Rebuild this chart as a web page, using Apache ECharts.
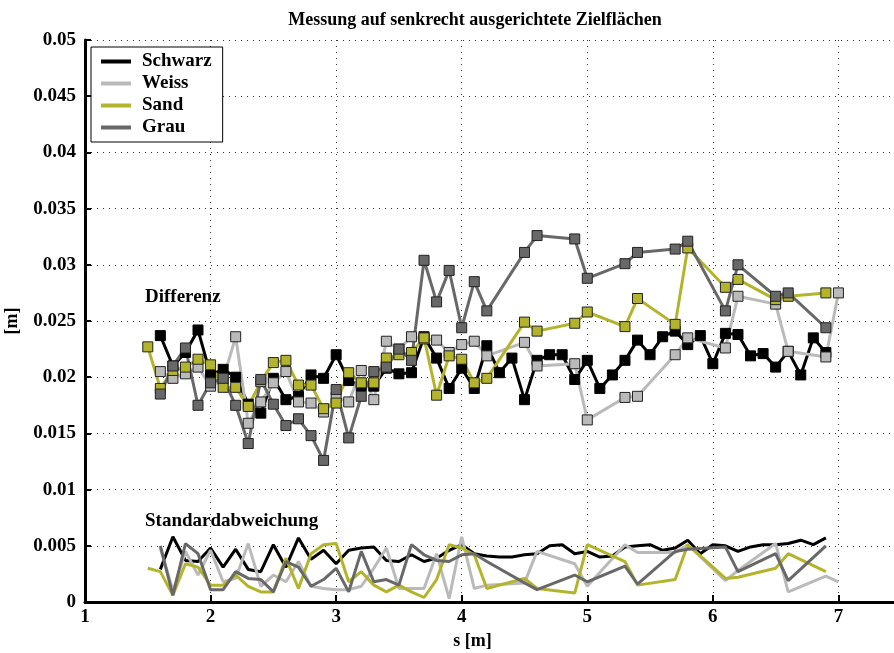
<!DOCTYPE html>
<html>
<head>
<meta charset="utf-8">
<script src="https://cdn.jsdelivr.net/npm/echarts@6/dist/echarts.min.js"></script>
<style>
html,body{margin:0;padding:0;background:#fff;}
#chart{width:894px;height:653px;}
</style>
</head>
<body>
<div id="chart"></div>
<script>
// ---- data ----
const seriesNames = ['Schwarz', 'Weiss', 'Sand', 'Grau'];
const xTicks = [1, 2, 3, 4, 5, 6, 7, 8];

const schwarzX = [1.6,1.7,1.8,1.9,2.0,2.1,2.2,2.3,2.4,2.5,2.6,2.7,2.8,2.9,3.0,3.1,3.2,3.3,3.4,3.5,3.6,3.7,3.8,3.9,4.0,4.1,4.2,4.3,4.4,4.5,4.6,4.7,4.8,4.9,5.0,5.1,5.2,5.3,5.4,5.5,5.6,5.7,5.8,5.9,6.0,6.1,6.2,6.3,6.4,6.5,6.6,6.7,6.8,6.9];
const schwarzDiff = [0.0237,0.0210,0.0222,0.0242,0.0202,0.0207,0.0200,0.0176,0.0168,0.0199,0.0180,0.0183,0.0202,0.0199,0.0220,0.0197,0.0192,0.0192,0.0208,0.0203,0.0204,0.0236,0.0217,0.0190,0.0208,0.0190,0.0228,0.0204,0.0217,0.0180,0.0215,0.0220,0.0220,0.0198,0.0215,0.0190,0.0202,0.0215,0.0233,0.0220,0.0236,0.0241,0.0229,0.0237,0.0212,0.0239,0.0238,0.0219,0.0221,0.0209,0.0223,0.0202,0.0235,0.0222];
const schwarzStd = [0.0029,0.0058,0.0037,0.0036,0.0048,0.0031,0.0047,0.0029,0.0027,0.0051,0.0031,0.0057,0.0038,0.0046,0.0034,0.0046,0.0048,0.0049,0.0037,0.0036,0.0042,0.0036,0.0039,0.0046,0.0051,0.0043,0.0041,0.0040,0.0040,0.0042,0.0043,0.0050,0.0051,0.0043,0.0045,0.0040,0.0041,0.0049,0.0050,0.0051,0.0046,0.0048,0.0055,0.0043,0.0051,0.0050,0.0045,0.0049,0.0051,0.0051,0.0052,0.0055,0.0051,0.0057];

const weissX = [1.6,1.7,1.8,1.9,2.0,2.1,2.2,2.3,2.4,2.5,2.6,2.7,2.8,2.9,3.0,3.1,3.2,3.3,3.4,3.5,3.6,3.7,3.8,3.9,4.0,4.1,4.2,4.5,4.6,4.9,5.0,5.3,5.4,5.7,5.8,6.1,6.2,6.5,6.6,6.9,7.0];
const weissDiff = [0.0205,0.0199,0.0203,0.0209,0.0192,0.0198,0.0236,0.0159,0.0178,0.0195,0.0205,0.0178,0.0177,0.0169,0.0182,0.0178,0.0206,0.0180,0.0232,0.0225,0.0236,0.0234,0.0233,0.0222,0.0229,0.0232,0.0219,0.0231,0.0210,0.0212,0.0162,0.0182,0.0183,0.0220,0.0235,0.0226,0.0272,0.0265,0.0223,0.0218,0.0275];
const weissStd = [0.0048,0.0010,0.0045,0.0024,0.0046,0.0018,0.0021,0.0052,0.0014,0.0024,0.0018,0.0036,0.0014,0.0012,0.0011,0.0011,0.0014,0.0030,0.0048,0.0012,0.0012,0.0012,0.0043,0.0003,0.0058,0.0012,0.0015,0.0017,0.0045,0.0034,0.0014,0.0051,0.0044,0.0044,0.0051,0.0019,0.0028,0.0052,0.0009,0.0023,0.0018];

const sandX = [1.5,1.6,1.7,1.8,1.9,2.0,2.1,2.2,2.3,2.4,2.5,2.6,2.7,2.8,2.9,3.0,3.1,3.2,3.3,3.4,3.5,3.6,3.7,3.8,3.9,4.0,4.1,4.2,4.5,4.6,4.9,5.0,5.3,5.4,5.7,5.8,6.1,6.2,6.5,6.6,6.9];
const sandDiff = [0.0227,0.0190,0.0206,0.0209,0.0216,0.0211,0.0191,0.0191,0.0174,0.0196,0.0213,0.0215,0.0193,0.0193,0.0172,0.0177,0.0204,0.0195,0.0195,0.0217,0.0220,0.0222,0.0235,0.0184,0.0219,0.0216,0.0195,0.0199,0.0249,0.0241,0.0248,0.0258,0.0245,0.0270,0.0247,0.0315,0.0280,0.0287,0.0269,0.0272,0.0275];
const sandStd = [0.0030,0.0027,0.0006,0.0034,0.0031,0.0015,0.0015,0.0024,0.0014,0.0009,0.0009,0.0039,0.0012,0.0043,0.0051,0.0052,0.0018,0.0027,0.0015,0.0009,0.0015,0.0009,0.0004,0.0020,0.0051,0.0048,0.0042,0.0012,0.0021,0.0012,0.0008,0.0051,0.0036,0.0015,0.0020,0.0051,0.0021,0.0022,0.0030,0.0043,0.0027];

const grauX = [1.6,1.7,1.8,1.9,2.0,2.1,2.2,2.3,2.4,2.5,2.6,2.7,2.8,2.9,3.0,3.1,3.2,3.3,3.4,3.5,3.6,3.7,3.8,3.9,4.0,4.1,4.2,4.5,4.6,4.9,5.0,5.3,5.4,5.7,5.8,6.1,6.2,6.5,6.6,6.9];
const grauDiff = [0.0185,0.0210,0.0226,0.0175,0.0195,0.0199,0.0175,0.0141,0.0198,0.0176,0.0157,0.0163,0.0148,0.0126,0.0189,0.0146,0.0183,0.0205,0.0209,0.0225,0.0215,0.0304,0.0267,0.0295,0.0244,0.0285,0.0259,0.0311,0.0326,0.0323,0.0288,0.0301,0.0311,0.0314,0.0321,0.0259,0.0300,0.0272,0.0275,0.0244];
const grauStd = [0.0050,0.0006,0.0052,0.0043,0.0011,0.0011,0.0027,0.0021,0.0020,0.0009,0.0036,0.0031,0.0014,0.0020,0.0030,0.0009,0.0045,0.0018,0.0020,0.0015,0.0051,0.0042,0.0037,0.0036,0.0042,0.0043,0.0036,0.0017,0.0011,0.0024,0.0018,0.0032,0.0016,0.0045,0.0047,0.0049,0.0027,0.0043,0.0019,0.0050];

// ---- styling ----
const colors = { Schwarz: '#000000', Weiss: '#bababa', Sand: '#b4b42c', Grau: '#686868' };
const FONT = '"Liberation Serif", "Times New Roman", serif';

function pairs(xs, ys) { return xs.map((x, i) => [x, ys[i]]); }

const groups = [
  { name: 'Schwarz', x: schwarzX, d: schwarzDiff, s: schwarzStd },
  { name: 'Weiss', x: weissX, d: weissDiff, s: weissStd },
  { name: 'Sand', x: sandX, d: sandDiff, s: sandStd },
  { name: 'Grau', x: grauX, d: grauDiff, s: grauStd }
];

const series = [];
groups.forEach(g => {
  series.push({
    name: g.name + ' (Standardabweichung)',
    type: 'line',
    data: pairs(g.x, g.s),
    showSymbol: false,
    symbol: 'none',
    lineStyle: { color: colors[g.name], width: 3 },
    itemStyle: { color: colors[g.name] },
    z: 2,
    animation: false
  });
});
groups.forEach(g => {
  series.push({
    name: g.name,
    type: 'line',
    data: pairs(g.x, g.d),
    symbol: 'rect',
    symbolSize: 10,
    lineStyle: { color: colors[g.name], width: 3 },
    itemStyle: { color: colors[g.name], borderColor: g.name === 'Schwarz' ? '#000' : '#222', borderWidth: 1 },
    z: 3,
    animation: false
  });
});

const chart = echarts.init(document.getElementById('chart'), null, { renderer: 'canvas' });
chart.setOption({
  backgroundColor: '#ffffff',
  animation: false,
  title: {
    text: 'Messung auf senkrecht ausgerichtete Zielflächen',
    left: 470, top: 6, textAlign: 'center',
    textStyle: { fontFamily: FONT, fontWeight: 'bold', fontSize: 18, color: '#000' }
  },
  legend: {
    data: seriesNames,
    orient: 'vertical',
    left: 91, top: 47,
    backgroundColor: '#ffffff',
    borderColor: '#000', borderWidth: 1, borderRadius: 0,
    padding: [5, 11, 5, 10],
    itemGap: 3,
    itemWidth: 30, itemHeight: 4,
    icon: 'rect',
    itemStyle: { borderWidth: 0 },
    textStyle: { fontFamily: FONT, fontWeight: 'bold', fontSize: 19, color: '#000', padding: [0, 0, 0, 6] }
  },
  grid: { left: 85, top: 40, bottom: 51, right: -70, containLabel: false, outerBoundsMode: 'none' },
  xAxis: {
    type: 'value', min: xTicks[0], max: xTicks[xTicks.length - 1], interval: 1,
    name: 's [m]', nameLocation: 'middle', nameGap: 26,
    nameTextStyle: { fontFamily: FONT, fontWeight: 'bold', fontSize: 18, color: '#000', padding: [0, 104, 0, 0] },
    axisLine: { show: true, lineStyle: { color: '#000', width: 3 } },
    axisTick: { show: true, inside: true, length: 7, lineStyle: { color: '#000', width: 2 } },
    axisLabel: { fontFamily: FONT, fontWeight: 'bold', fontSize: 19, color: '#000', margin: 6 },
    splitLine: { show: true, lineStyle: { color: '#333', width: 1, type: [1, 5] } }
  },
  yAxis: {
    type: 'value', min: 0, max: 0.05, interval: 0.005,
    name: '[m]', nameLocation: 'middle', nameGap: 64, nameRotate: 90,
    nameTextStyle: { fontFamily: FONT, fontWeight: 'bold', fontSize: 18, color: '#000' },
    axisLine: { show: true, lineStyle: { color: '#000', width: 3 } },
    axisTick: { show: true, inside: true, length: 6, lineStyle: { color: '#000', width: 2 } },
    axisLabel: { fontFamily: FONT, fontWeight: 'bold', fontSize: 19, color: '#000', margin: 9,
      formatter: v => String(Math.round(v * 1000) / 1000) },
    splitLine: { show: true, lineStyle: { color: '#333', width: 1, type: [1, 5] } }
  },
  graphic: [
    { type: 'text', left: 145, top: 288, style: { text: 'Differenz', fill: '#000', font: 'bold 19px ' + FONT } },
    { type: 'text', left: 145, top: 512, style: { text: 'Standardabweichung', fill: '#000', font: 'bold 19px ' + FONT } }
  ],
  series: series
});
</script>
</body>
</html>
